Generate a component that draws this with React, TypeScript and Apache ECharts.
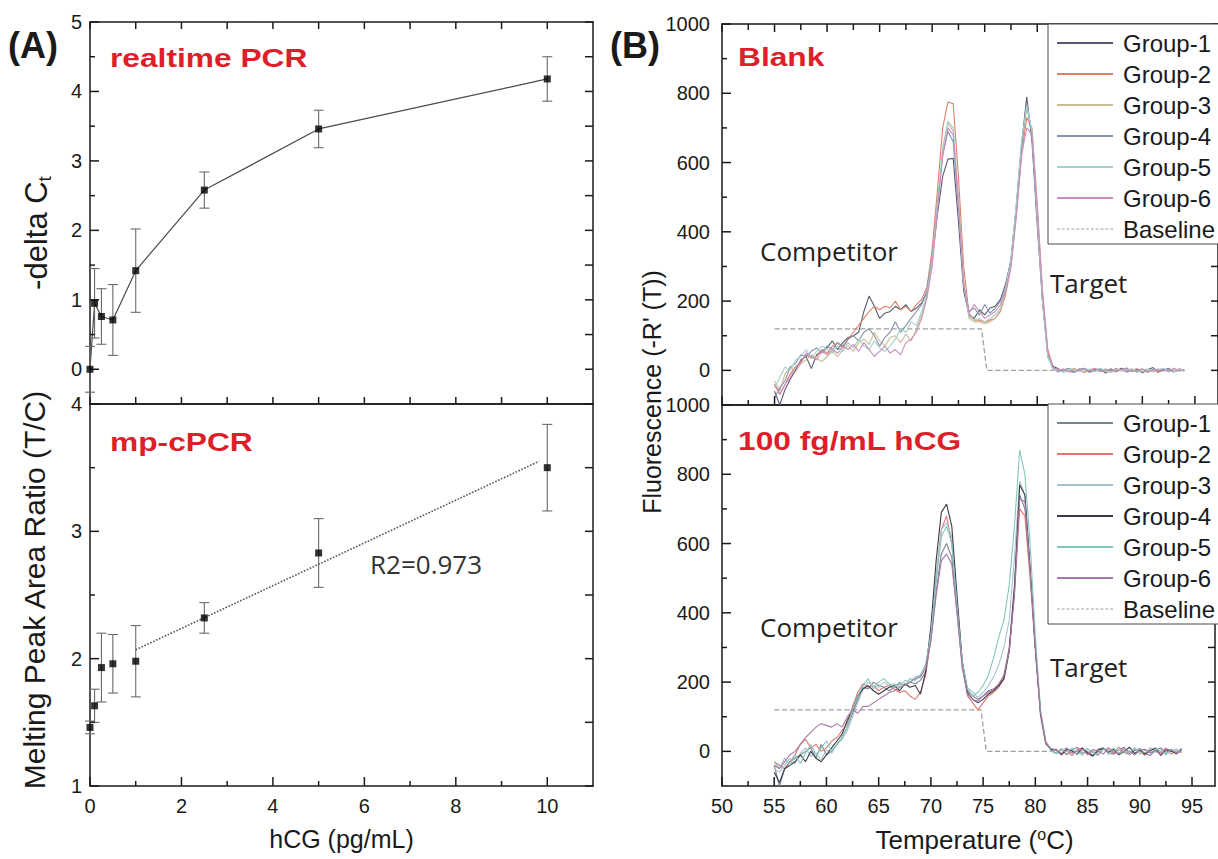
import React, { useEffect, useRef } from "react";
import * as echarts from "echarts";

// ---------- Panel A data ----------
const HCG = [0, 0.1, 0.25, 0.5, 1, 2.5, 5, 10];
const DELTA_CT = [0, 0.95, 0.76, 0.71, 1.42, 2.58, 3.46, 4.18];
const DELTA_CT_ERR = [0.33, 0.5, 0.4, 0.51, 0.6, 0.26, 0.27, 0.32];
const RATIO = [1.46, 1.63, 1.93, 1.96, 1.98, 2.32, 2.83, 3.5];
const RATIO_ERR = [0.05, 0.13, 0.27, 0.23, 0.28, 0.12, 0.27, 0.34];
const FIT_X = [1, 9.82];
const FIT_Y = [2.07, 3.55];

// ---------- Panel B data ----------
const TEMPS = [55, 55.5, 56, 56.5, 57, 57.5, 58, 58.5, 59, 59.5, 60, 60.5, 61, 61.5, 62, 62.5, 63, 63.5, 64, 64.5, 65, 65.5, 66, 66.5, 67, 67.5, 68, 68.5, 69, 69.5, 70, 70.5, 71, 71.5, 72, 72.5, 73, 73.5, 74, 74.5, 75, 75.5, 76, 76.5, 77, 77.5, 78, 78.5, 79, 79.5, 80, 80.5, 81, 81.5, 82, 82.5, 83, 83.5, 84, 84.5, 85, 85.5, 86, 86.5, 87, 87.5, 88, 88.5, 89, 89.5, 90, 90.5, 91, 91.5, 92, 92.5, 93, 93.5, 94];

const BLANK_G1 = [-60, -100, -55, -25, 0, 30, 40, 5, 45, 55, 65, 85, 60, 80, 95, 100, 110, 170, 215, 185, 150, 165, 170, 185, 175, 190, 170, 180, 195, 225, 320, 450, 560, 610, 612, 430, 230, 160, 150, 175, 160, 180, 185, 205, 250, 320, 470, 650, 790, 660, 420, 200, 50, 12, 5, -3, 4, -6, 2, 6, -4, 0, 5, -8, 3, -2, 6, -5, 1, 4, -7, 2, 8, -3, 0, 5, -4, 2, -2];
const BLANK_G2 = [-40, -70, -40, -10, 10, 25, 45, 35, 40, 60, 50, 70, 80, 65, 90, 110, 130, 150, 170, 185, 175, 185, 180, 200, 175, 185, 170, 190, 205, 240, 350, 520, 700, 775, 770, 560, 300, 165, 145, 145, 140, 145, 150, 170, 220, 300, 450, 620, 730, 700, 480, 230, 60, 10, -2, 3, -5, 4, 0, -6, 2, 5, -3, 1, -4, 6, -2, 0, 4, -5, 3, -1, 2, -6, 4, 0, -3, 5, -1];
const BLANK_G3 = [-30, -60, -10, 10, -5, 20, 30, 45, 35, 25, 40, 55, 40, 60, 70, 55, 80, 90, 75, 110, 85, 70, 95, 100, 80, 105, 85, 120, 160, 210, 310, 470, 640, 715, 690, 500, 260, 150, 140, 140, 135, 140, 150, 175, 230, 310, 460, 640, 760, 690, 450, 210, 45, 5, 3, -4, 2, 6, -2, -5, 4, 1, -3, 5, -6, 2, 0, 4, -2, 6, -4, 1, -5, 3, 2, -3, 5, -1, 0];
const BLANK_G4 = [-80, -50, -30, 10, 20, 45, 40, 55, 65, 50, 70, 60, 80, 70, 90, 100, 85, 110, 120, 100, 70, 95, 110, 140, 110, 130, 150, 170, 190, 230, 330, 480, 620, 690, 660, 470, 240, 170, 180, 160, 190, 165, 180, 200, 240, 320, 470, 640, 770, 680, 440, 200, 40, 5, -5, 2, 6, -3, 0, 4, -6, 3, 1, -2, 5, -4, 2, 7, -3, 0, 4, -5, 1, 3, -2, 6, -4, 0, 2];
const BLANK_G5 = [-50, -20, 10, 0, 30, 40, 60, 35, 55, 70, 60, 50, 70, 55, 80, 65, 90, 70, 60, 85, 65, 55, 70, 90, 120, 110, 140, 130, 170, 220, 320, 480, 640, 720, 700, 490, 250, 155, 145, 150, 140, 150, 160, 180, 240, 320, 480, 660, 765, 690, 440, 200, 40, 3, 2, -6, 4, 0, -3, 5, 2, -4, 6, -1, -5, 3, 0, -2, 5, -6, 2, 4, -3, 1, 6, -2, -5, 3, 0];
const BLANK_G6 = [-40, -70, -40, -20, 10, 20, 50, 40, 30, 55, 45, 60, 50, 70, 60, 75, 55, 80, 60, 40, 55, 70, 50, 60, 45, 80, 90, 110, 150, 210, 300, 460, 620, 700, 680, 480, 250, 165, 190, 170, 150, 160, 170, 190, 230, 300, 440, 620, 700, 680, 460, 220, 55, 8, 0, 4, -3, -6, 5, 1, -2, 6, -4, 2, 0, -5, 3, 5, -3, -1, 4, -6, 2, 0, 3, -4, 6, -2, 1];

const HCG_G1 = [-40, -100, -50, -30, -20, -10, 0, 10, -20, 20, -10, 0, 20, 40, 70, 110, 150, 185, 180, 200, 190, 185, 175, 185, 195, 190, 200, 195, 205, 230, 320, 460, 570, 600, 560, 400, 250, 175, 160, 150, 160, 175, 180, 190, 220, 300, 480, 740, 700, 520, 300, 110, 25, 5, -5, 8, -10, 4, 12, -6, 0, -12, 6, 10, -4, -8, 5, 12, -10, 2, 8, -6, -12, 4, 10, -3, 6, -8, 5];
const HCG_G2 = [-30, -40, -50, -30, -10, 20, 35, 10, 20, 0, 10, 30, 40, 60, 80, 130, 170, 195, 185, 190, 175, 185, 190, 180, 170, 175, 160, 150, 170, 220, 330, 500, 640, 680, 600, 420, 250, 160, 140, 120, 140, 160, 170, 185, 210, 290, 460, 700, 680, 500, 290, 100, 20, 5, 6, -8, 3, -12, 5, 10, -4, 0, -10, 8, 4, -6, 12, -2, -8, 6, 0, -12, 9, 3, -5, 10, -8, 2, -4];
const HCG_G3 = [-50, -60, -40, -20, -35, -5, 10, -15, -5, -25, 5, -5, 20, 35, 60, 100, 140, 180, 200, 190, 185, 200, 190, 195, 185, 205, 200, 215, 220, 250, 340, 500, 640, 660, 620, 430, 260, 185, 170, 155, 170, 190, 215, 250, 300, 380, 560, 780, 740, 520, 300, 110, 25, 3, -8, 4, 10, -6, 2, -12, 7, 0, -5, 12, -9, 3, 6, -4, -10, 8, 2, -6, 11, -3, 5, -10, 0, 7, -4];
const HCG_G4 = [-60, -90, -50, -40, -30, -10, -30, 0, -20, -30, -10, 10, 30, 50, 90, 120, 160, 180, 190, 175, 165, 175, 185, 190, 175, 195, 185, 190, 165, 230, 360, 550, 690, 714, 650, 450, 260, 170, 150, 140, 150, 165, 175, 190, 210, 290, 470, 770, 740, 530, 300, 110, 25, 5, 4, -10, 6, 2, -8, 10, -5, -14, 3, 8, -2, 6, -10, 0, 12, -6, 4, -8, 2, 10, -12, 5, 0, -6, 8];
const HCG_G5 = [-30, -50, -20, -40, -10, -35, -5, 20, -10, 10, 30, 0, 20, 40, 70, 120, 160, 190, 210, 180, 200, 210, 195, 185, 200, 190, 210, 205, 220, 250, 340, 490, 620, 650, 600, 420, 260, 180, 160, 170, 190, 220, 270, 330, 380, 480, 650, 870, 800, 600, 330, 120, 30, 0, -6, 5, -2, 10, -10, 3, 8, -4, -12, 6, 0, 9, -7, 2, -3, 11, -8, 4, -5, 7, 0, -9, 6, -2, 3];
const HCG_G6 = [-40, -50, -30, -10, 0, 20, 40, 55, 70, 80, 75, 70, 80, 70, 100, 120, 110, 130, 130, 140, 150, 160, 170, 175, 185, 190, 200, 210, 215, 240, 320, 450, 550, 570, 540, 400, 240, 165, 150, 145, 160, 170, 180, 195, 220, 290, 450, 730, 720, 520, 300, 110, 25, 8, 3, -6, 9, -4, 0, 7, -10, 5, 2, -8, 11, -3, -6, 8, 0, -11, 4, 6, -5, 2, -9, 7, 3, -4, 1];

const BASE_T_TOP = [55, 74.7, 75.2, 81.6];
const BASE_T_BOT = [55, 74.8, 75.3, 81.6];
const BASE_V = [120, 120, 0, 0];

const GROUP_NAMES = ["Group-1", "Group-2", "Group-3", "Group-4", "Group-5", "Group-6"];
const BLANK_SETS = [BLANK_G1, BLANK_G2, BLANK_G3, BLANK_G4, BLANK_G5, BLANK_G6];
const HCG_SETS = [HCG_G1, HCG_G2, HCG_G3, HCG_G4, HCG_G5, HCG_G6];

// ---------- Tick values ----------
const HCG_MAJOR = [0, 2, 4, 6, 8, 10];
const HCG_MINOR = [1, 3, 5, 7, 9];
const CT_MAJOR = [0, 1, 2, 3, 4, 5];
const CT_MINOR = [0.5, 1.5, 2.5, 3.5, 4.5];
const RATIO_MAJOR = [1, 2, 3, 4];
const RATIO_MINOR = [1.5, 2.5, 3.5];
const TEMP_MAJOR = [50, 55, 60, 65, 70, 75, 80, 85, 90, 95];
const TEMP_MINOR = [52.5, 57.5, 62.5, 67.5, 72.5, 77.5, 82.5, 87.5, 92.5];
const FL_MAJOR = [0, 200, 400, 600, 800, 1000];
const FL_MINOR = [100, 300, 500, 700, 900];

const TOP_COLORS = ["#565b70", "#e0806a", "#c9bd92", "#8491a8", "#a2d2cc", "#c98fc0"];
const BOT_COLORS = ["#7a8294", "#e07870", "#a8c2cc", "#3a3a46", "#82c8ba", "#a878a8"];
const BASE_COLOR = "#a0a0a0";

const INK = "#1a1a1a";
const RED = "#dd1f2a";
const FONT = "'Liberation Sans', Arial, Helvetica, sans-serif";
const OS = "'Open Sans', 'DejaVu Sans', sans-serif";
const DASH_ICON =
  "path://M0 0h3v1H0z M5 0h3v1H5z M10 0h3v1h-3z M15 0h3v1h-3z M20 0h3v1h-3z M25 0h3v1h-3z M30 0h3v1h-3z M35 0h3v1h-3z M40 0h3v1h-3z M45 0h3v1h-3z M50 0h3v1h-3z M55 0h3v1h-3z";

function ax(gridIndex: number, position: string, min: number, max: number, interval: number, o: any = {}) {
  return {
    type: "value",
    gridIndex,
    position,
    min,
    max,
    interval,
    show: o.show ?? true,
    axisLine: { show: o.line ?? false, onZero: false, lineStyle: { color: INK, width: 1.5 } },
    axisTick: { show: false },
    minorTick: { show: false },
    axisLabel: o.labels
      ? {
          show: true,
          fontFamily: FONT,
          fontSize: 20,
          color: INK,
          margin: o.margin ?? 8,
          formatter: o.formatter ?? ((v: number) => String(v)),
        }
      : { show: false },
    splitLine: { show: false },
    minorSplitLine: { show: false },
    ...(o.name || {}),
  };
}

// All inside ticks of one grid, rendered as a group by a custom series whose single
// anchor item sits in the middle of the plot; positions come from api.coord.
function tickGroupSeries(xi: number, yi: number, ext: number[], specs: Array<[string, number[], number]>) {
  const [xMin, xMax, yMin, yMax] = ext;
  return {
    type: "custom",
    xAxisIndex: xi,
    yAxisIndex: yi,
    clip: false,
    silent: true,
    z: 4,
    data: [[(xMin + xMax) / 2, (yMin + yMax) / 2]],
    encode: { x: 0, y: 1 },
    renderItem: (params: any, api: any) => {
      const children: any[] = [];
      specs.forEach(([side, vals, len]) => {
        vals.forEach((v) => {
          let p: number[];
          let dx = 0;
          let dy = 0;
          if (side === "bottom") {
            p = api.coord([v, yMin]);
            dy = -len;
          } else if (side === "top") {
            p = api.coord([v, yMax]);
            dy = len;
          } else if (side === "left") {
            p = api.coord([xMin, v]);
            dx = len;
          } else {
            p = api.coord([xMax, v]);
            dx = -len;
          }
          children.push({
            type: "line",
            shape: { x1: p[0], y1: p[1], x2: p[0] + dx, y2: p[1] + dy },
            style: { stroke: INK, lineWidth: 1.5 },
          });
        });
      });
      return { type: "group", children };
    },
  };
}

function errorBars(xIdx: number, yIdx: number, xs: number[], ys: number[], es: number[]) {
  return {
    type: "custom",
    xAxisIndex: xIdx,
    yAxisIndex: yIdx,
    clip: false,
    z: 3,
    data: xs.map((x, i) => [x, ys[i], es[i]]),
    encode: { x: 0, y: 1 },
    renderItem: (params: any, api: any) => {
      const x = api.value(0);
      const y = api.value(1);
      const e = api.value(2);
      const top = api.coord([x, y + e]);
      const bot = api.coord([x, y - e]);
      const hw = 5;
      const st = { stroke: "#6a6a6a", lineWidth: 1.1 };
      return {
        type: "group",
        children: [
          { type: "line", shape: { x1: top[0], y1: top[1], x2: bot[0], y2: bot[1] }, style: st },
          { type: "line", shape: { x1: top[0] - hw, y1: top[1], x2: top[0] + hw, y2: top[1] }, style: st },
          { type: "line", shape: { x1: bot[0] - hw, y1: bot[1], x2: bot[0] + hw, y2: bot[1] }, style: st },
        ],
      };
    },
  };
}

function buildOption() {
  const xAxis: any[] = [];
  const yAxis: any[] = [];
  const add = (list: any[], a: any) => {
    list.push(a);
    return list.length - 1;
  };

  // ---- Grid 0: realtime PCR ----
  const X0 = add(xAxis, ax(0, "bottom", 0, 11, 1, { line: true }));
  add(xAxis, ax(0, "top", 0, 11, 1, { line: true }));
  const Y0 = add(
    yAxis,
    ax(0, "left", -0.5, 5, 0.5, {
      line: true,
      name: {
        name: "-delta C{sub|t}",
        nameLocation: "middle",
        nameRotate: 90,
        nameGap: 36,
        nameTextStyle: {
          fontFamily: FONT,
          fontSize: 31,
          color: INK,
          padding: [0, 40, 0, 0],
          rich: { sub: { fontFamily: FONT, fontSize: 19, color: INK, padding: [16, 0, 0, 0] } },
        },
      },
    })
  );
  add(yAxis, ax(0, "right", -0.5, 5, 0.5, { line: true }));
  add(xAxis, ax(4, "bottom", 0, 1, 1, { show: false }));
  add(yAxis, ax(4, "left", 0, 5, 1, { labels: true, margin: 8 }));

  // ---- Grid 1: mp-cPCR ----
  const X1 = add(
    xAxis,
    ax(1, "bottom", 0, 11, 1, {
      line: true,
      labels: true,
      margin: 10,
      formatter: (v: number) => (v % 2 === 0 && v <= 10 ? String(v) : ""),
      name: {
        name: "hCG (pg/mL)",
        nameLocation: "middle",
        nameGap: 40,
        nameTextStyle: { fontFamily: FONT, fontSize: 25, color: INK },
      },
    })
  );
  add(xAxis, ax(1, "top", 0, 11, 1, { line: true }));
  const Y1 = add(
    yAxis,
    ax(1, "left", 1, 4, 1, {
      line: true,
      labels: true,
      margin: 8,
      name: {
        name: "Melting Peak Area Ratio (T/C)",
        nameLocation: "middle",
        nameRotate: 90,
        nameGap: 41,
        nameTextStyle: { fontFamily: FONT, fontSize: 30, color: INK, padding: [0, 0, 0, 10] },
      },
    })
  );
  add(yAxis, ax(1, "right", 1, 4, 0.5, { line: true }));

  // ---- Grid 2: Blank ----
  const X2 = add(xAxis, ax(2, "bottom", 50, 97.2, 5, { line: true }));
  add(xAxis, ax(2, "top", 50, 97.2, 2.5, { line: true }));
  const Y2 = add(yAxis, ax(2, "left", -100, 1000, 100, { line: true }));
  add(yAxis, ax(2, "right", -100, 1000, 100, { line: true }));
  add(xAxis, ax(5, "bottom", 0, 1, 1, { show: false }));
  add(yAxis, ax(5, "left", 0, 1000, 200, { labels: true, margin: 12 }));

  // ---- Grid 3: 100 fg/mL hCG ----
  const X3 = add(
    xAxis,
    ax(3, "bottom", 50, 97.2, 5, {
      line: true,
      labels: true,
      margin: 10,
      formatter: (v: number) => (v <= 95 ? String(v) : ""),
      name: {
        name: "Temperature ({sup|o}C)",
        nameLocation: "middle",
        nameGap: 40,
        nameTextStyle: {
          fontFamily: FONT,
          fontSize: 26,
          color: INK,
          padding: [0, 0, 0, 12],
          rich: { sup: { fontFamily: FONT, fontSize: 16, color: INK, padding: [0, 0, 12, 0] } },
        },
      },
    })
  );
  add(xAxis, ax(3, "top", 50, 97.2, 2.5, { line: true }));
  const Y3 = add(yAxis, ax(3, "left", -100, 1000, 100, { line: true }));
  add(yAxis, ax(3, "right", -100, 1000, 100, { line: true }));
  add(xAxis, ax(6, "bottom", 0, 1, 1, { show: false }));
  add(yAxis, ax(6, "left", 0, 1000, 200, { labels: true, margin: 12 }));

  const series: any[] = [];

  // realtime PCR
  series.push({
    type: "line",
    xAxisIndex: X0,
    yAxisIndex: Y0,
    data: HCG.map((x, i) => [x, DELTA_CT[i]]),
    symbol: "none",
    lineStyle: { color: "#4a4a4a", width: 1.2 },
    z: 2,
  });
  series.push(errorBars(X0, Y0, HCG, DELTA_CT, DELTA_CT_ERR));
  series.push({
    type: "scatter",
    xAxisIndex: X0,
    yAxisIndex: Y0,
    data: HCG.map((x, i) => [x, DELTA_CT[i]]),
    symbol: "rect",
    symbolSize: 7,
    clip: false,
    itemStyle: { color: "#000" },
    z: 4,
  });
  // mp-cPCR
  series.push({
    type: "line",
    xAxisIndex: X1,
    yAxisIndex: Y1,
    data: FIT_X.map((x, i) => [x, FIT_Y[i]]),
    symbol: "none",
    lineStyle: { color: "#555", width: 1.6, type: "dotted" },
    z: 2,
  });
  series.push(errorBars(X1, Y1, HCG, RATIO, RATIO_ERR));
  series.push({
    type: "scatter",
    xAxisIndex: X1,
    yAxisIndex: Y1,
    data: HCG.map((x, i) => [x, RATIO[i]]),
    symbol: "rect",
    symbolSize: 7,
    clip: false,
    itemStyle: { color: "#000" },
    z: 4,
  });

  // melt curves
  const addMelt = (xi: number, yi: number, sets: number[][], colors: string[], baseT: number[]) => {
    series.push({
      type: "line",
      name: "Baseline",
      xAxisIndex: xi,
      yAxisIndex: yi,
      data: baseT.map((tt, i) => [tt, BASE_V[i]]),
      symbol: "none",
      lineStyle: { color: BASE_COLOR, width: 1.3, type: "dashed" },
      z: 1,
    });
    sets.forEach((vals, g) => {
      series.push({
        type: "line",
        name: GROUP_NAMES[g],
        xAxisIndex: xi,
        yAxisIndex: yi,
        data: TEMPS.map((tt, i) => [tt, vals[i]]),
        symbol: "none",
        lineStyle: { color: colors[g], width: 1.1 },
        itemStyle: { color: colors[g] },
        z: 2,
      });
    });
  };
  addMelt(X2, Y2, BLANK_SETS, TOP_COLORS, BASE_T_TOP);
  addMelt(X3, Y3, HCG_SETS, BOT_COLORS, BASE_T_BOT);

  // ---- inside ticks on the four sides of each box ----
  const E0 = [0, 11, -0.5, 5];
  const E1 = [0, 11, 1, 4];
  const E2 = [50, 97.2, -100, 1000];
  series.push(
    tickGroupSeries(X0, Y0, E0, [
      ["bottom", HCG_MAJOR.concat(HCG_MINOR), 7],
      ["top", HCG_MAJOR.concat(HCG_MINOR), 7],
      ["left", CT_MAJOR, 9],
      ["left", CT_MINOR, 5],
      ["right", CT_MAJOR.concat(CT_MINOR), 8],
    ]),
    tickGroupSeries(X1, Y1, E1, [
      ["bottom", HCG_MAJOR, 9],
      ["bottom", HCG_MINOR, 5],
      ["left", RATIO_MAJOR, 9],
      ["left", RATIO_MINOR, 5],
      ["right", RATIO_MAJOR.concat(RATIO_MINOR), 8],
    ]),
    tickGroupSeries(X2, Y2, E2, [
      ["bottom", TEMP_MAJOR, 9],
      ["bottom", TEMP_MINOR, 5],
      ["top", TEMP_MAJOR, 8],
      ["top", TEMP_MINOR, 6],
      ["left", FL_MAJOR, 9],
      ["left", FL_MINOR, 5],
      ["right", FL_MAJOR.concat(FL_MINOR), 7],
    ]),
    tickGroupSeries(X3, Y3, E2, [
      ["bottom", TEMP_MAJOR, 9],
      ["bottom", TEMP_MINOR, 5],
      ["left", FL_MAJOR, 9],
      ["left", FL_MINOR, 5],
      ["right", FL_MAJOR.concat(FL_MINOR), 7],
    ])
  );

  const legendData = (colors: string[]) =>
    GROUP_NAMES.map((n, i) => ({ name: n, icon: "rect", itemStyle: { color: colors[i] } } as any)).concat([
      { name: "Baseline", icon: DASH_ICON, itemStyle: { color: BASE_COLOR } },
    ]);

  const legendBase = {
    orient: "vertical",
    left: 1048,
    z: 10,
    itemWidth: 56,
    itemHeight: 2,
    itemGap: 7,
    padding: [7, 40, 3, 9],
    borderColor: "#4a4a4a",
    borderWidth: 1,
    backgroundColor: "#fff",
    selectedMode: false,
    textStyle: { fontFamily: FONT, fontSize: 24, color: INK, padding: [0, 0, 0, 5] },
  };

  const txt = (text: string, x: number, y: number, font: string, fill: string, scaleX = 1) => ({
    type: "text",
    x,
    y,
    scaleX,
    style: {
      text,
      font,
      fill,
      align: "left",
      textAlign: "left",
      verticalAlign: "middle",
      textVerticalAlign: "middle",
    },
  });

  const graphic: any[] = [
    txt("(A)", 8, 45, `bold 36px ${FONT}`, INK),
    txt("(B)", 610, 45, `bold 36px ${FONT}`, INK),
    txt("realtime PCR", 110, 58, `bold 26px ${FONT}`, RED, 1.22),
    txt("mp-cPCR", 110, 442, `bold 26px ${FONT}`, RED, 1.22),
    txt("Blank", 738, 57, `bold 26px ${FONT}`, RED, 1.22),
    txt("100 fg/mL hCG", 738, 441, `bold 26px ${FONT}`, RED, 1.22),
    txt("Competitor", 760, 251, `26px ${OS}`, "#222"),
    txt("Competitor", 760, 627, `26px ${OS}`, "#222"),
    txt("Target", 1050, 283, `26px ${OS}`, "#222"),
    txt("Target", 1050, 667, `26px ${OS}`, "#222"),
    txt("R2=0.973", 370, 564, `26px ${OS}`, "#333"),
    {
      type: "text",
      x: 652,
      y: 392,
      rotation: Math.PI / 2,
      style: {
        text: "Fluorescence (-R' (T))",
        font: `25px ${FONT}`,
        fill: INK,
        align: "center",
        textAlign: "center",
        verticalAlign: "middle",
        textVerticalAlign: "middle",
      },
    },
  ];

  return {
    animation: false,
    backgroundColor: "#fff",
    grid: [
      { left: 90, top: 22, width: 503, height: 382 },
      { left: 90, top: 404, width: 503, height: 382 },
      { left: 722, top: 24, width: 498, height: 381 },
      { left: 722, top: 405, width: 498, height: 381 },
      { left: 90, top: 22, width: 503, height: (382 * 5) / 5.5 },
      { left: 722, top: 24, width: 498, height: (381 * 1000) / 1100 },
      { left: 722, top: 405, width: 498, height: (381 * 1000) / 1100 },
    ],
    xAxis,
    yAxis,
    legend: [
      { ...legendBase, top: 24, data: legendData(TOP_COLORS) },
      { ...legendBase, top: 404, data: legendData(BOT_COLORS) },
    ],
    graphic,
    series,
  };
}

export default function App() {
  const ref = useRef<HTMLDivElement>(null);
  useEffect(() => {
    document.body.style.margin = "0";
    if (!ref.current) return;
    const chart = echarts.init(ref.current, null, { renderer: "svg" });
    chart.setOption(buildOption() as any);
    return () => chart.dispose();
  }, []);
  return <div ref={ref} style={{ width: 1218, height: 859 }} />;
}
